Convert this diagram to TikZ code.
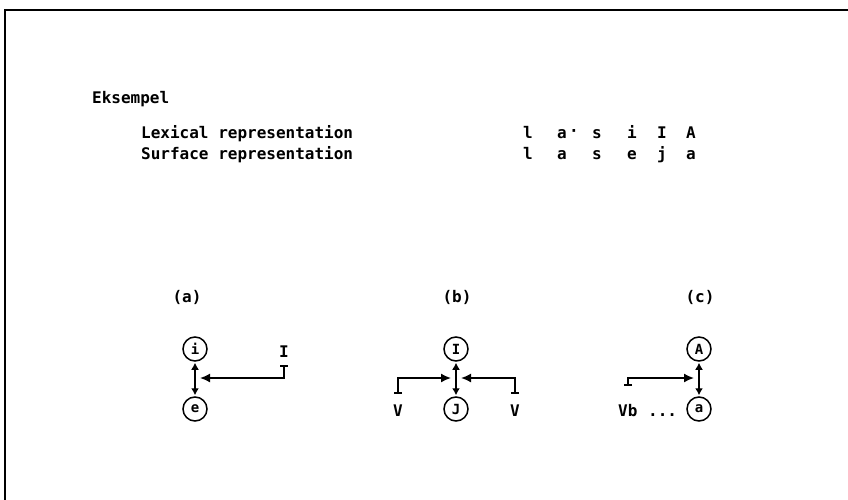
\documentclass[tikz,border=0pt]{standalone}
\usepackage{fontspec}
\setmonofont{DejaVu Sans Mono}
\usetikzlibrary{arrows.meta}
\begin{document}
\begin{tikzpicture}[x=1pt,y=-1pt,
  fnt/.style={font=\ttfamily\bfseries\fontsize{16}{16}\selectfont},
  txt/.style={fnt, inner sep=0pt, anchor=base west},
  ltr/.style={fnt, inner sep=0pt, anchor=base},
  circ/.style={draw, circle, line width=1.5pt, minimum size=24pt, inner sep=0pt, font=\ttfamily\bfseries\fontsize{14}{14}\selectfont},
  tick/.style={line width=1.6pt, {Bar[width=8pt,line width=1.6pt]}-{Latex[length=10pt,width=9pt]}},
  dbl/.style={line width=1.6pt, {Latex[length=7pt,width=8pt]}-{Latex[length=7pt,width=8pt]}, shorten <=1pt, shorten >=1pt}
]
\useasboundingbox (0,0) rectangle (848,500);
\draw[line width=1.5pt] (5,500) -- (5,10) -- (848,10);

\node[txt] (title) at (92,103) {Eksempel};
\node[txt] (lex) at (141,139) {Lexical representation};
\node[txt] (sur) at (141,159) {Surface representation};

\node[ltr] (l1) at (528,139) {l};
\node[ltr] (l2) at (562,139) {a};
\node[ltr] (l2d) at (574,136) {·};
\node[ltr] (l3) at (597,139) {s};
\node[ltr] (l4) at (632,139) {i};
\node[ltr] (l5) at (662,139) {I};
\node[ltr] (l6) at (691,139) {A};
\node[ltr] (s1) at (528,159) {l};
\node[ltr] (s2) at (562,159) {a};
\node[ltr] (s3) at (597,159) {s};
\node[ltr] (s4) at (632,159) {e};
\node[ltr] (s5) at (662,159) {j};
\node[ltr] (s6) at (691,159) {a};

\node[ltr] (la) at (187,302) {(a)};
\node[ltr] (lb) at (457,302) {(b)};
\node[ltr] (lc) at (700,302) {(c)};

% (a)
\node[circ] (ai) at (195,349) {i};
\node[circ] (ae) at (195,409) {e};
\draw[dbl] (ai.south) -- (ae.north);
\node[ltr] (aI) at (284,357) {I};
\coordinate (aT) at (284,365);
\coordinate (aK) at (284,378);
\coordinate (aE) at (200,378);
\draw[tick] (aT) -- (aK) -- (aE);

% (b)
\node[circ] (bI) at (456,349) {I};
\node[circ] (bJ) at (456,409) {J};
\draw[dbl] (bI.south) -- (bJ.north);
\node[ltr] (bV1) at (398,416) {V};
\node[ltr] (bV2) at (515,416) {V};
\coordinate (bT1) at (398,394);
\coordinate (bK1) at (398,378);
\coordinate (bE1) at (451,378);
\coordinate (bT2) at (515,394);
\coordinate (bK2) at (515,378);
\coordinate (bE2) at (461,378);
\draw[tick] (bT1) -- (bK1) -- (bE1);
\draw[tick] (bT2) -- (bK2) -- (bE2);

% (c)
\node[circ] (cA) at (699,349) {A};
\node[circ] (ca) at (699,409) {a};
\draw[dbl] (cA.south) -- (ca.north);
\node[txt] (cVb) at (618,416) {Vb};
\node[txt] (cdots) at (648,416) {...};
\coordinate (cT) at (628,386);
\coordinate (cK) at (628,378);
\coordinate (cE) at (694,378);
\draw[tick] (cT) -- (cK) -- (cE);
\end{tikzpicture}
\end{document}
